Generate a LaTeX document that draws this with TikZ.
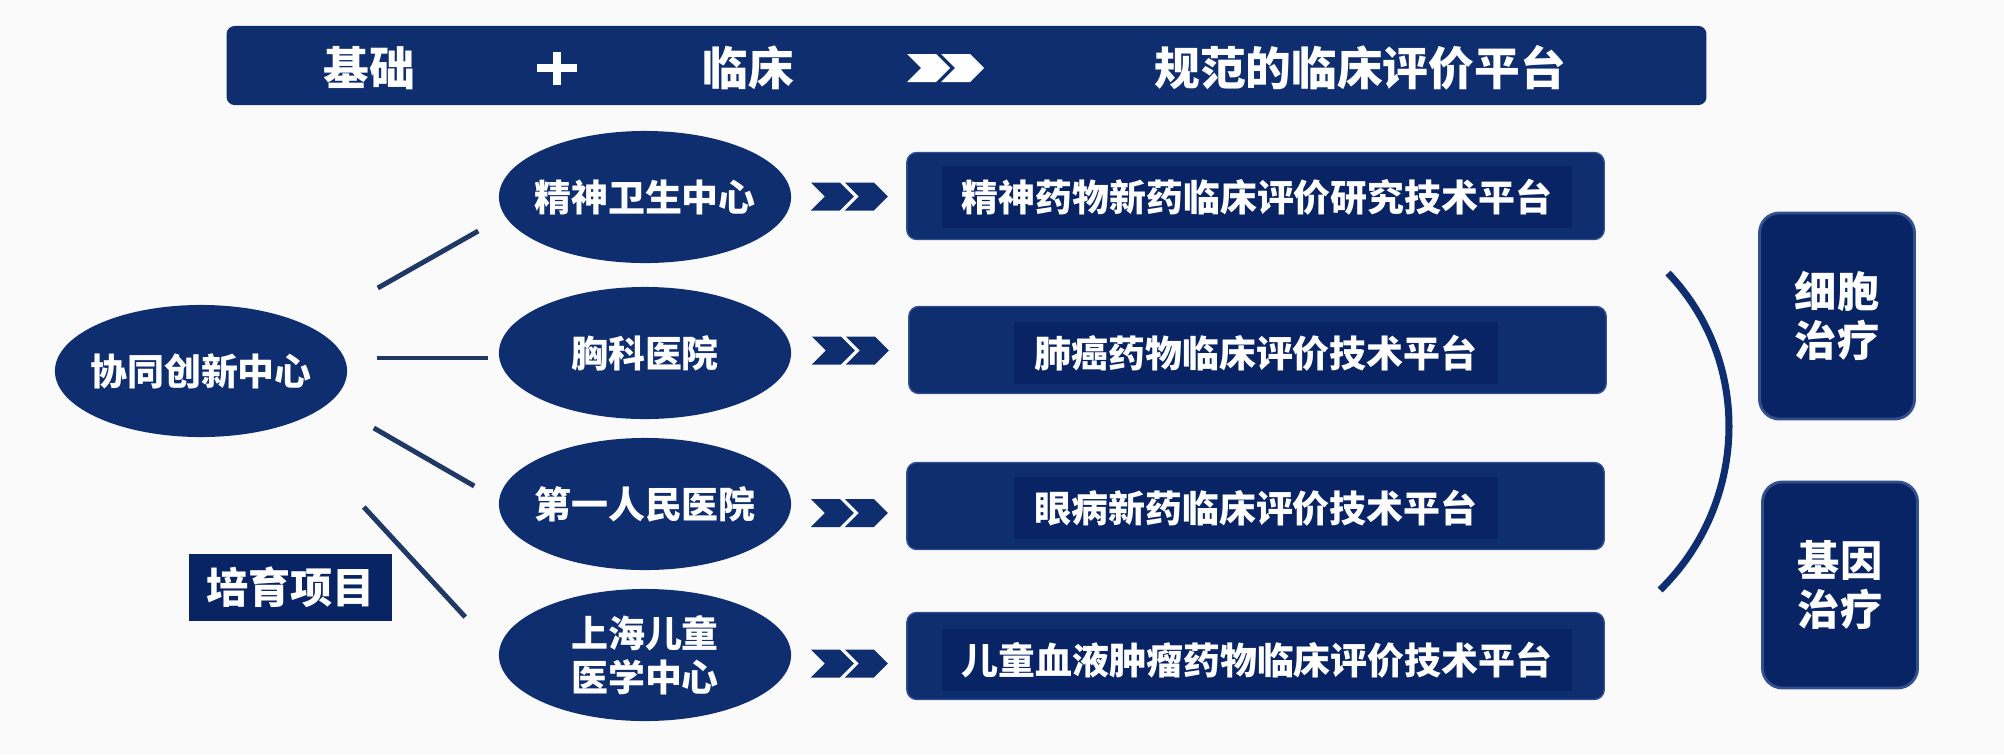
\documentclass[tikz,border=0pt]{standalone}
\usepackage{fontspec}
\setmainfont{Noto Sans CJK SC}
\usepackage{tikz}
\usetikzlibrary{shapes.geometric, positioning, calc}
\definecolor{navy}{RGB}{14,46,112}
\definecolor{deepnavy}{RGB}{8,36,100}
\definecolor{linknavy}{RGB}{31,56,100}
\definecolor{edgeblue}{RGB}{52,80,140}
\definecolor{paper}{RGB}{250,250,251}
\tikzset{
	hosp/.style={ellipse, fill=navy, text=white, font=\bfseries\fontsize{10.5}{12.5}\selectfont, inner xsep=-1mm, inner ysep=0pt, minimum width=2.92cm, minimum height=1.32cm, align=center},
	plat/.style={rectangle, rounded corners=0.1cm, fill=navy, draw=edgeblue, line width=0.4pt, minimum width=6.97cm, minimum height=0.87cm},
	platxt/.style={fill=deepnavy, text=white, font=\bfseries\fontsize{10.5}{12.5}\selectfont, inner xsep=0.2cm, inner ysep=0pt, minimum height=0.62cm},
	ther/.style={rectangle, rounded corners=0.2cm, fill=deepnavy, draw=edgeblue, line width=0.8pt, minimum width=1.55cm, minimum height=2.06cm, text=white, font=\bfseries\fontsize{12}{14}\selectfont, align=center},
	bartxt/.style={text=white, font=\bfseries\fontsize{13}{15}\selectfont, inner sep=0pt},
	link/.style={draw=linknavy, line width=1.4pt},
}
\newcommand{\dchev}[2]{%
	\foreach \dx in {-38,-4}
		\fill[#2] ($(#1)+(\dx,-14)$) -- ++(29,0) -- ++(14,14) -- ++(-14,14) -- ++(-29,0) -- ++(14,-14) -- cycle;
}

\begin{document}
\begin{tikzpicture}[x=0.01cm, y=-0.01cm]
	\fill[paper](0,0) rectangle (2004,754);
	\useasboundingbox (0,0) rectangle (2004,754);

	% top bar
	\node[rectangle, rounded corners=0.08cm, fill=navy, minimum width=14.79cm, minimum height=0.79cm](bar) at (966.5,65.5){};
	\node[bartxt](base) at (369,68){基础};
	\coordinate (plus) at (557,68);
	\fill[white]($(plus)+(-4,-16.5)$) rectangle ($(plus)+(4,16.5)$);
	\fill[white]($(plus)+(-20,-4)$) rectangle ($(plus)+(20,4)$);
	\node[bartxt](clin) at (748,68){临床};
	\coordinate (go) at (945,68);
	\dchev{go}{white}
	\node[bartxt](goal) at (1360,68){规范的临床评价平台};

	\node[hosp](e0) at (201,371){协同创新中心};
	\node[hosp](e1) at (645,197){精神卫生中心};
	\node[hosp](e2) at (645,353){胸科医院};
	\node[hosp](e3) at (645,504){第一人民医院};
	\node[hosp](e4) at (645,655){上海儿童\\医学中心};

	\draw[link]($(e0.east)+(30,-83)$)--($(e1.west)+(-20,34)$);
	\draw[link]($(e0.east)+(29,-13)$)--($(e2.west)+(-10,5)$);
	\draw[link]($(e0.east)+(26,57)$)--($(e3.west)+(-24,-18)$);
	\draw[link]($(e0.east)+(16,136)$)--($(e4.west)+(-33,-38)$);

	\node[fill=deepnavy, text=white, font=\bfseries\fontsize{12}{14}\selectfont, minimum width=2.03cm, minimum height=0.67cm](grow) at (290.5,587.5){培育项目};

	\node[plat](p1) at (1255.5,196){};
	\node[plat](p2) at (1257.5,350){};
	\node[plat](p3) at (1255.5,506){};
	\node[plat](p4) at (1255.5,656){};
	\node[platxt](t1) at (1257,197){精神药物新药临床评价研究技术平台};
	\node[platxt](t2) at (1256,353){肺癌药物临床评价技术平台};
	\node[platxt](t3) at (1256,508){眼病新药临床评价技术平台};
	\node[platxt](t4) at (1257,660){儿童血液肿瘤药物临床评价技术平台};

	\foreach \i/\s in {1/0,2/-1,3/8,4/8}{
		\coordinate (g\i) at ($(e\i.east)!0.5!(p\i.west)+(0,\s)$);
		\dchev{g\i}{navy}
	}

	\node[ther](cell) at (1837,316){细胞\\治疗};
	\node[ther](gene) at (1840,585){基因\\治疗};
	\draw[navy, line width=2pt](1668,273) .. controls (1753,362) and (1748,504) .. (1660,590);

\end{tikzpicture}
\end{document}
